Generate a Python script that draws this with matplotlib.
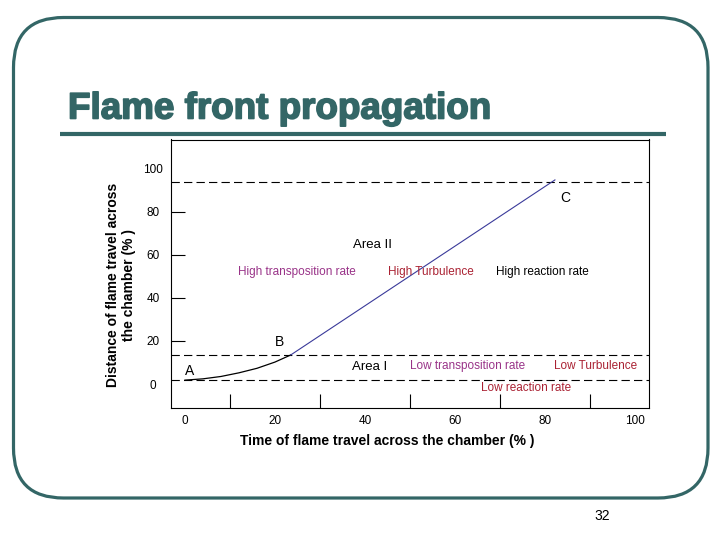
import matplotlib
matplotlib.use("Agg")
import matplotlib.pyplot as plt
from matplotlib.patches import FancyBboxPatch
import matplotlib.patheffects as pe

plt.rcParams['font.family'] = ['Liberation Sans', 'DejaVu Sans']
plt.rcParams['lines.scale_dashes'] = False

# ---- data ----
title = "Flame front propagation"
x_label = "Time of flame travel across the chamber (% )"
y_label = "Distance of flame travel across\nthe chamber (% )"
x_tick_labels = [0, 20, 40, 60, 80, 100]
x_minor_ticks = [10, 30, 50, 70, 90]
y_tick_labels = [0, 20, 40, 60, 80, 100]
y_minor_ticks = [20, 40, 60, 80]
boundary_levels = [1.7, 13.5, 93.8]

curve_low_x = [0, 4, 8, 12, 16, 20, 23.5]
curve_low_y = [1.8, 2.4, 3.5, 5.2, 7.3, 10.2, 13.5]
curve_high_x = [23.5, 82.2]
curve_high_y = [13.5, 94.9]

annotations = [
    ("C", 84.4, 86.5, "black", 10),
    ("Area II", 41.6, 64.7, "black", 9.5),
    ("High transposition rate", 24.9, 52.1, "#993388", 8.5),
    ("High Turbulence", 54.7, 52.1, "#aa2233", 8.5),
    ("High reaction rate", 79.3, 52.1, "black", 8.5),
    ("B", 20.9, 19.5, "black", 10),
    ("A", 1.1, 6.0, "black", 10),
    ("Area I", 41.1, 7.9, "black", 9.5),
    ("Low transposition rate", 62.9, 8.4, "#993388", 8.5),
    ("Low Turbulence", 91.3, 8.4, "#aa2233", 8.5),
    ("Low reaction rate", 75.8, -1.9, "#aa2233", 8.5),
]
page_number = "32"

teal = "#336666"

fig = plt.figure(figsize=(7.2, 5.4), dpi=100)

# slide background / frame
bg = fig.add_axes([0, 0, 1, 1])
bg.set_xlim(0, 720)
bg.set_ylim(540, 0)
bg.axis("off")
frame = FancyBboxPatch((13.5, 17.5), 708 - 13.5, 498 - 17.5,
                       boxstyle="round,pad=0,rounding_size=50",
                       facecolor="white", edgecolor=teal, linewidth=2.3)
bg.add_patch(frame)
bg.plot([60, 666], [134, 134], color=teal, linewidth=3.0, solid_capstyle="butt")
bg.text(68, 109, title, fontsize=26.5, fontweight="bold", color=teal,
        ha="left", va="center",
        path_effects=[pe.withStroke(linewidth=1.2, foreground=teal)])
bg.text(602, 516, page_number, fontsize=10, ha="center", va="center")

# chart
ax = fig.add_axes([171 / 720, 1 - 408.3 / 540, 478 / 720, 268.8 / 540])
ax.set_xlim(-3.1, 103.1)
ax.set_ylim(-11.3, 113.7)
for s in ax.spines.values():
    s.set_linewidth(0.8)
    s.set_color("black")

ax.xaxis.remove_overlapping_locs = False
ax.yaxis.remove_overlapping_locs = False
ax.set_xticks(x_tick_labels)
ax.set_xticklabels([str(v) for v in x_tick_labels])
ax.set_xticks(x_minor_ticks, minor=True)
ax.set_yticks(y_tick_labels)
ax.set_yticklabels([str(v) for v in y_tick_labels])
ax.set_yticks(y_minor_ticks, minor=True)
ax.tick_params(axis="both", which="major", length=0, labelsize=8.5)
ax.tick_params(axis="x", which="major", pad=5)
ax.tick_params(axis="y", which="major", pad=13)
for lab in ax.get_yticklabels():
    lab.set_ha("center")
ax.tick_params(axis="both", which="minor", direction="in", length=10, width=0.8)

for lvl in boundary_levels:
    ax.axhline(lvl, color="black", linewidth=0.8, dashes=(6, 3))

ax.plot(curve_low_x, curve_low_y, color="black", linewidth=0.9)
ax.plot(curve_high_x, curve_high_y, color="#3a3a9a", linewidth=0.8)

for txt, x, y, c, fs in annotations:
    ax.text(x, y, txt, color=c, fontsize=fs, ha="center", va="center")

ax.set_xlabel(x_label, fontsize=10, fontweight="bold")
ax.xaxis.set_label_coords(0.452, -0.122)
ax.xaxis.label.set_va("center")
ax.set_ylabel(y_label, fontsize=10, fontweight="bold", linespacing=1.15)
ax.yaxis.set_label_coords(-0.105, 0.46)
ax.yaxis.label.set_va("center")

fig.savefig("out.png", dpi=100)
